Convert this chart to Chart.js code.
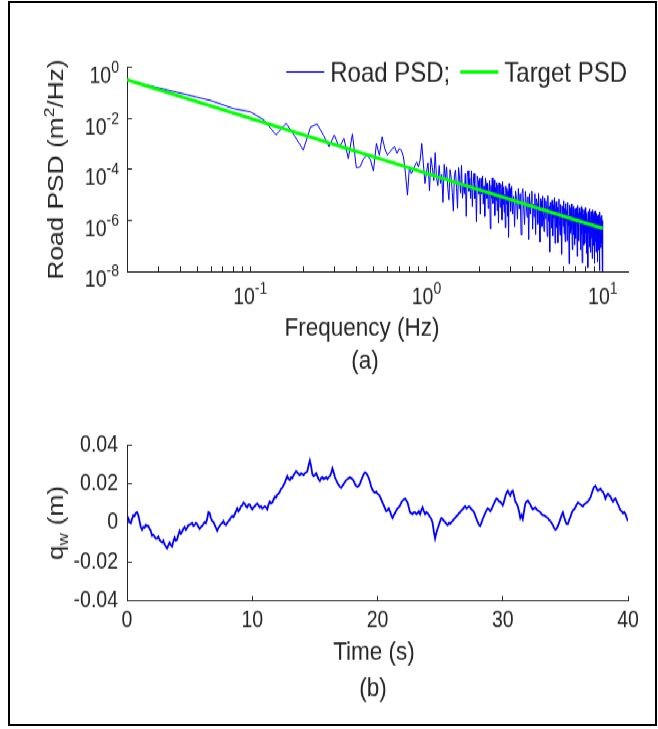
<!DOCTYPE html>
<html>
<head>
<meta charset="utf-8">
<script src="https://cdn.jsdelivr.net/npm/chart.js@4.4.0/dist/chart.umd.min.js"></script>
<style>
  html, body { margin: 0; padding: 0; background: #fff; }
  body { width: 658px; height: 729px; position: relative; overflow: hidden; }
  #fig { position: absolute; left: 0; top: 0; width: 658px; height: 623px; transform: scaleY(1.17); transform-origin: 0 0; }
  #fig canvas { position: absolute; left: 0; }
  #psd { top: 0; }
  #road { top: 335px; }
  #frame { position: absolute; left: 8px; top: 1px; width: 645px; height: 721px; border: 2.5px solid #000; }
</style>
</head>
<body>
<div id="fig">
  <canvas id="psd" width="658" height="335"></canvas>
  <canvas id="road" width="658" height="288"></canvas>
</div>
<div id="frame"></div>
<script>
// (a) road PSD: frequency grid in Hz, values read as log10 of m^2/Hz
const psdBands = [
  { from: 0.02, to: 3, step: 0.02 },
  { from: 3.04, to: 10, step: 0.04 },
];
const roadPsdLog10 = [
  // 0.02 - 1.00 Hz
  -0.50, -1.00, -1.30, -1.61, -1.74, -2.06, -2.65, -2.19, -2.72, -3.24,
  -2.33, -2.22, -2.65, -3.11, -2.65, -3.14, -2.78, -3.57, -2.61, -3.94,
  -3.90, -3.57, -3.44, -3.60, -4.06, -2.98, -3.44, -2.72, -3.18, -3.44,
  -3.31, -3.18, -3.11, -3.37, -3.18, -3.24, -3.50, -4.16, -5.01, -3.90,
  -4.16, -4.03, -3.84, -3.71, -3.90, -3.64, -2.98, -3.77, -4.55, -4.10,
  // 1.02 - 3.00 Hz
  -3.74, -4.84, -3.54, -3.94, -4.44, -3.34, -4.34, -4.64, -3.84, -4.54,
  -4.20, -5.30, -3.80, -4.40, -3.90, -4.70, -5.20, -4.00, -4.30, -4.90,
  -5.63, -4.23, -4.03, -4.73, -5.53, -3.93, -4.33, -4.93, -3.83, -5.13,
  -4.55, -4.95, -4.15, -5.85, -4.25, -4.05, -4.85, -4.35, -5.15, -4.05,
  -5.45, -4.55, -4.15, -5.15, -4.65, -6.05, -4.25, -4.45, -4.95, -4.35,
  -5.75, -4.35, -4.95, -4.25, -5.35, -4.65, -5.85, -4.35, -4.55, -5.15,
  -4.53, -5.53, -4.83, -4.43, -6.33, -4.63, -5.13, -4.33, -5.33, -4.73,
  -4.41, -5.81, -4.71, -5.21, -4.51, -5.61, -4.61, -6.11, -4.51, -5.01,
  -5.48, -4.58, -4.88, -5.98, -4.48, -5.38, -4.68, -5.68, -4.98, -6.28,
  -4.65, -5.35, -4.75, -5.85, -4.85, -6.65, -4.55, -5.25, -4.75, -5.65,
  // 3.04 - 10.00 Hz
  -4.65, -5.75, -5.05, -6.25, -4.85, -5.15, -5.95, -4.75, -5.55, -4.95,
  -6.56, -4.96, -4.76, -5.56, -6.16, -4.86, -5.36, -5.86, -5.06, -6.76,
  -4.95, -5.75, -5.25, -4.85, -6.35, -5.35, -5.85, -4.95, -6.55, -5.15,
  -5.34, -6.14, -4.94, -5.64, -6.84, -5.14, -5.24, -6.24, -5.04, -5.74,
  -6.43, -5.13, -5.93, -5.23, -5.53, -6.63, -5.03, -6.03, -5.43, -7.23,
  -5.30, -5.70, -6.30, -5.20, -6.60, -5.40, -5.90, -5.10, -6.90, -5.50,
  -5.27, -6.27, -5.47, -6.87, -5.67, -5.17, -6.07, -6.57, -5.37, -5.87,
  -7.33, -5.43, -5.63, -6.23, -5.23, -6.53, -5.53, -6.83, -5.33, -6.03,
  -5.60, -6.80, -5.30, -6.20, -5.80, -7.70, -5.40, -6.10, -5.50, -6.50,
  -5.35, -6.35, -7.15, -5.65, -5.45, -6.55, -5.75, -6.95, -5.55, -6.25,
  -6.71, -5.51, -5.91, -7.41, -5.41, -6.21, -5.71, -6.81, -5.51, -6.01,
  -5.66, -7.16, -5.86, -5.46, -6.56, -7.66, -5.56, -6.36, -5.76, -6.96,
  -5.60, -6.30, -6.90, -5.50, -6.50, -5.90, -7.30, -5.70, -6.00, -6.70,
  -7.85, -5.65, -6.45, -5.75, -7.05, -5.55, -6.25, -7.25, -5.85, -5.65,
  -6.69, -5.99, -7.49, -5.59, -6.39, -5.79, -6.99, -5.69, -7.69, -5.89,
  -5.63, -6.83, -6.13, -7.23, -5.73, -6.53, -5.83, -7.63, -6.03, -6.73,
  -5.77, -7.17, -5.97, -6.47, -7.97, -5.67, -6.67, -5.87, -7.07, -6.07,
  -6.90, -5.80, -7.50, -6.00, -8.60
];
const targetFreq = [0.02, 1, 10];
const targetPsdLog10 = [-0.48, -4.15, -6.31];

const psdYTicks = [1e-8, 1e-6, 1e-4, 1e-2, 1];
const freqMajorTicks = [0.1, 1, 10];
const freqMinorTicks = [
  0.02, 0.03, 0.04, 0.05, 0.06, 0.07, 0.08, 0.09,
  0.2, 0.3, 0.4, 0.5, 0.6, 0.7, 0.8, 0.9,
  2, 3, 4, 5, 6, 7, 8, 9
];

// (b) road profile q_w (m), one value every 0.1 s from 0 to 40 s
const sampleStep = 0.1;
const qwValues = [
  0.0015, 0.0025, 0.0005, 0.0000, 0.0020, 0.0040, 0.0035, 0.0050, 0.0055, 0.0040, 0.0010, -0.0020, -0.0035, -0.0020, -0.0025, -0.0010, -0.0015, -0.0015, -0.0030, -0.0040,
  -0.0065, -0.0060, -0.0070, -0.0080, -0.0080, -0.0070, -0.0085, -0.0095, -0.0100, -0.0090, -0.0110, -0.0120, -0.0130, -0.0115, -0.0100, -0.0115, -0.0120, -0.0095, -0.0075, -0.0090,
  -0.0085, -0.0060, -0.0040, -0.0055, -0.0045, -0.0030, -0.0020, -0.0035, -0.0025, -0.0010, -0.0010, -0.0005, 0.0000, -0.0015, -0.0010, 0.0000, -0.0005, -0.0020, -0.0030, -0.0020,
  -0.0015, -0.0005, 0.0005, 0.0000, 0.0020, 0.0055, 0.0050, 0.0025, 0.0010, 0.0005, -0.0010, -0.0025, -0.0040, -0.0025, -0.0015, -0.0005, 0.0000, 0.0010, -0.0005, -0.0010,
  0.0000, 0.0010, 0.0015, 0.0030, 0.0035, 0.0030, 0.0045, 0.0060, 0.0075, 0.0060, 0.0070, 0.0085, 0.0090, 0.0105, 0.0100, 0.0085, 0.0080, 0.0095, 0.0095, 0.0080,
  0.0070, 0.0080, 0.0085, 0.0095, 0.0100, 0.0090, 0.0080, 0.0085, 0.0075, 0.0080, 0.0085, 0.0080, 0.0070, 0.0095, 0.0110, 0.0100, 0.0105, 0.0120, 0.0135, 0.0130,
  0.0145, 0.0150, 0.0160, 0.0175, 0.0180, 0.0195, 0.0205, 0.0225, 0.0240, 0.0225, 0.0220, 0.0235, 0.0230, 0.0245, 0.0255, 0.0265, 0.0260, 0.0250, 0.0245, 0.0255,
  0.0250, 0.0245, 0.0255, 0.0260, 0.0265, 0.0295, 0.0320, 0.0290, 0.0250, 0.0240, 0.0245, 0.0255, 0.0240, 0.0225, 0.0215, 0.0230, 0.0235, 0.0225, 0.0230, 0.0235,
  0.0225, 0.0235, 0.0240, 0.0255, 0.0280, 0.0260, 0.0235, 0.0220, 0.0205, 0.0195, 0.0185, 0.0180, 0.0190, 0.0200, 0.0210, 0.0220, 0.0225, 0.0230, 0.0235, 0.0230,
  0.0225, 0.0215, 0.0200, 0.0190, 0.0185, 0.0190, 0.0200, 0.0220, 0.0235, 0.0250, 0.0260, 0.0255, 0.0245, 0.0230, 0.0210, 0.0185, 0.0170, 0.0160, 0.0155, 0.0160,
  0.0150, 0.0145, 0.0135, 0.0120, 0.0105, 0.0090, 0.0075, 0.0060, 0.0065, 0.0075, 0.0060, 0.0040, 0.0025, 0.0040, 0.0050, 0.0065, 0.0075, 0.0080, 0.0090, 0.0105,
  0.0115, 0.0120, 0.0125, 0.0115, 0.0105, 0.0080, 0.0055, 0.0050, 0.0045, 0.0055, 0.0055, 0.0045, 0.0050, 0.0060, 0.0045, 0.0065, 0.0080, 0.0060, 0.0045, 0.0055,
  0.0050, 0.0040, 0.0030, 0.0020, 0.0000, -0.0045, -0.0080, -0.0050, -0.0030, -0.0010, 0.0010, 0.0025, 0.0020, 0.0010, 0.0005, -0.0005, -0.0010, 0.0000, -0.0005, 0.0005,
  0.0010, 0.0020, 0.0025, 0.0035, 0.0040, 0.0050, 0.0055, 0.0065, 0.0070, 0.0080, 0.0085, 0.0075, 0.0080, 0.0085, 0.0080, 0.0070, 0.0065, 0.0055, 0.0040, 0.0020,
  0.0005, -0.0010, -0.0015, 0.0000, 0.0020, 0.0035, 0.0050, 0.0065, 0.0075, 0.0070, 0.0060, 0.0070, 0.0085, 0.0100, 0.0115, 0.0125, 0.0120, 0.0110, 0.0110, 0.0100,
  0.0090, 0.0110, 0.0135, 0.0155, 0.0165, 0.0150, 0.0140, 0.0160, 0.0165, 0.0140, 0.0110, 0.0100, 0.0085, 0.0060, 0.0025, 0.0040, 0.0020, 0.0060, 0.0100, 0.0110,
  0.0115, 0.0105, 0.0095, 0.0080, 0.0070, 0.0075, 0.0080, 0.0070, 0.0065, 0.0060, 0.0055, 0.0045, 0.0040, 0.0040, 0.0035, 0.0030, 0.0025, 0.0015, 0.0010, 0.0000,
  -0.0010, -0.0025, -0.0035, -0.0030, -0.0015, 0.0000, 0.0020, 0.0040, 0.0055, 0.0030, 0.0010, -0.0005, -0.0005, 0.0015, 0.0030, 0.0050, 0.0065, 0.0070, 0.0080, 0.0095,
  0.0105, 0.0100, 0.0095, 0.0090, 0.0085, 0.0095, 0.0100, 0.0105, 0.0110, 0.0120, 0.0130, 0.0150, 0.0170, 0.0185, 0.0190, 0.0175, 0.0165, 0.0170, 0.0175, 0.0165,
  0.0160, 0.0145, 0.0125, 0.0140, 0.0150, 0.0140, 0.0135, 0.0120, 0.0110, 0.0120, 0.0125, 0.0110, 0.0095, 0.0080, 0.0065, 0.0060, 0.0050, 0.0055, 0.0045, 0.0025,
  0.0010
];
const timeTicks = [0, 10, 20, 30, 40];
const qwTicks = [-0.04, -0.02, 0, 0.02, 0.04];

const psdFreq = psdBands.flatMap((b) =>
  Array.from({ length: Math.round((b.to - b.from) / b.step) + 1 }, (_, i) => +(b.from + i * b.step).toFixed(2))
);
const qwTime = qwValues.map((_, i) => +(i * sampleStep).toFixed(1));

const FONT = "'Liberation Sans', Arial, Helvetica, sans-serif";
const INK = '#262626';

// text with super/subscripts, anchor = visual middle of the main text
function drawRich(ctx, parts, x, y, align, rotate) {
  ctx.save();
  ctx.translate(x, y);
  if (rotate) ctx.rotate(-Math.PI / 2);
  ctx.fillStyle = INK;
  ctx.textAlign = 'left';
  ctx.textBaseline = 'alphabetic';
  let total = 0;
  const widths = parts.map((p) => {
    ctx.font = p.size + 'px ' + FONT;
    const w = ctx.measureText(p.text).width;
    total += w;
    return w;
  });
  let cx = align === 'right' ? -total : align === 'left' ? 0 : -total / 2;
  const base = parts[0].size * 0.358;
  parts.forEach((p, i) => {
    ctx.font = p.size + 'px ' + FONT;
    ctx.fillText(p.text, cx, base + (p.dy || 0));
    cx += widths[i];
  });
  ctx.restore();
}

const powerLabel = (v) => [
  { text: '10', size: 19.5 },
  { text: String(Math.round(Math.log10(v))), size: 14, dy: -9 },
];

const psdDecor = {
  id: 'psdDecor',
  afterDraw(chart) {
    const { ctx, chartArea: a, scales } = chart;
    psdYTicks.forEach((v) => {
      drawRich(ctx, powerLabel(v), a.left - 8, scales.y.getPixelForValue(v) + 6.5, 'right');
    });
    freqMajorTicks.forEach((v) => {
      drawRich(ctx, powerLabel(v), scales.x.getPixelForValue(v), a.bottom + 21.5, 'center');
    });
    drawRich(ctx, [
      { text: 'Road PSD (m', size: 22.5 },
      { text: '2', size: 15, dy: -9 },
      { text: '/Hz)', size: 22.5 },
    ], 55, (a.top + a.bottom) / 2, 'center', true);
    drawRich(ctx, [{ text: 'Frequency (Hz)', size: 22.5 }], 362, 279.1, 'center');
    drawRich(ctx, [{ text: '(a)', size: 22.5 }], 365, 307.3, 'center');

    // legend, one row, top right inside the axes
    const ly = 61.5;
    const sample = 38, gap = 6, sep = 10;
    ctx.save();
    ctx.font = '24px ' + FONT;
    const items = chart.data.datasets.slice().sort((p, q) => p.legendIndex - q.legendIndex);
    let total = 0;
    items.forEach((d, i) => { total += sample + gap + ctx.measureText(d.label).width + (i ? sep : 0); });
    let cx = 627 - total;
    items.forEach((d) => {
      ctx.strokeStyle = d.borderColor;
      ctx.lineWidth = d.borderWidth;
      ctx.beginPath();
      ctx.moveTo(cx, ly);
      ctx.lineTo(cx + sample, ly);
      ctx.stroke();
      cx += sample + gap;
      ctx.fillStyle = INK;
      ctx.textBaseline = 'alphabetic';
      ctx.fillText(d.label, cx, ly + 8.6);
      cx += ctx.measureText(d.label).width + sep;
    });
    ctx.restore();
  },
};

const roadDecor = {
  id: 'roadDecor',
  afterDraw(chart) {
    const { ctx, chartArea: a } = chart;
    drawRich(ctx, [
      { text: 'q', size: 22.5 },
      { text: 'w', size: 15, dy: 5 },
      { text: ' (m)', size: 22.5 },
    ], 55, (a.top + a.bottom) / 2, 'center', true);
    drawRich(ctx, [{ text: 'Time (s)', size: 22.5 }], 374, 221, 'center');
    drawRich(ctx, [{ text: '(b)', size: 22.5 }], 373, 251.8, 'center');
  },
};

new Chart(document.getElementById('psd'), {
  type: 'line',
  data: {
    datasets: [
      {
        label: 'Road PSD;',
        legendIndex: 0,
        order: 1,
        data: psdFreq.map((f, i) => ({ x: f, y: 10 ** roadPsdLog10[i] })),
        borderColor: '#0000ff',
        borderWidth: 1,
        pointRadius: 0,
      },
      {
        label: 'Target PSD',
        legendIndex: 1,
        order: 0,
        data: targetFreq.map((f, i) => ({ x: f, y: 10 ** targetPsdLog10[i] })),
        borderColor: '#00ff00',
        borderWidth: 3,
        pointRadius: 0,
      },
    ],
  },
  options: {
    responsive: false,
    animation: false,
    layout: { padding: { top: 57.7, left: 43.5, right: 30, bottom: 10.6 } },
    plugins: { legend: { display: false }, tooltip: { enabled: false } },
    scales: {
      x: {
        type: 'logarithmic',
        min: 0.02,
        max: 13.9,
        afterBuildTicks: (s) => {
          s.ticks = freqMinorTicks.concat(freqMajorTicks).sort((p, q) => p - q).map((v) => ({ value: v }));
        },
        afterFit: (s) => { s.height = 92.4; },
        ticks: { display: false },
        grid: { drawOnChartArea: false, tickLength: -4.5, color: INK },
        border: { color: INK, width: 1 },
      },
      y: {
        type: 'logarithmic',
        min: 1e-8,
        max: 1,
        afterBuildTicks: (s) => { s.ticks = psdYTicks.map((v) => ({ value: v })); },
        afterFit: (s) => { s.width = 83.5; },
        ticks: { display: false },
        grid: { drawOnChartArea: false, tickLength: -5, color: INK },
        border: { color: INK, width: 1 },
      },
    },
  },
  plugins: [psdDecor],
});

new Chart(document.getElementById('road'), {
  type: 'line',
  data: {
    datasets: [
      {
        label: 'q_w',
        data: qwTime.map((t, i) => ({ x: t, y: qwValues[i] })),
        borderColor: '#0000ff',
        borderWidth: 1.8,
        pointRadius: 0,
      },
    ],
  },
  options: {
    responsive: false,
    animation: false,
    layout: { padding: { top: 45.3, left: 43.5, right: 30, bottom: 18.3 } },
    plugins: { legend: { display: false }, tooltip: { enabled: false } },
    scales: {
      x: {
        type: 'linear',
        min: 0,
        max: 40,
        afterBuildTicks: (s) => { s.ticks = timeTicks.map((v) => ({ value: v })); },
        afterFit: (s) => { s.height = 91; },
        ticks: { font: { family: FONT, size: 19.5 }, color: INK, padding: 9.9, maxRotation: 0 },
        grid: { drawOnChartArea: false, tickLength: -4.5, color: INK },
        border: { color: INK, width: 1 },
      },
      y: {
        type: 'linear',
        min: -0.04,
        max: 0.04,
        afterBuildTicks: (s) => { s.ticks = qwTicks.map((v) => ({ value: v })); },
        afterFit: (s) => { s.width = 83.5; },
        ticks: { font: { family: FONT, size: 19.5 }, color: INK, padding: 14, callback: (v) => String(v) },
        grid: { drawOnChartArea: false, tickLength: -5, color: INK },
        border: { color: INK, width: 1 },
      },
    },
  },
  plugins: [roadDecor],
});
</script>
</body>
</html>
